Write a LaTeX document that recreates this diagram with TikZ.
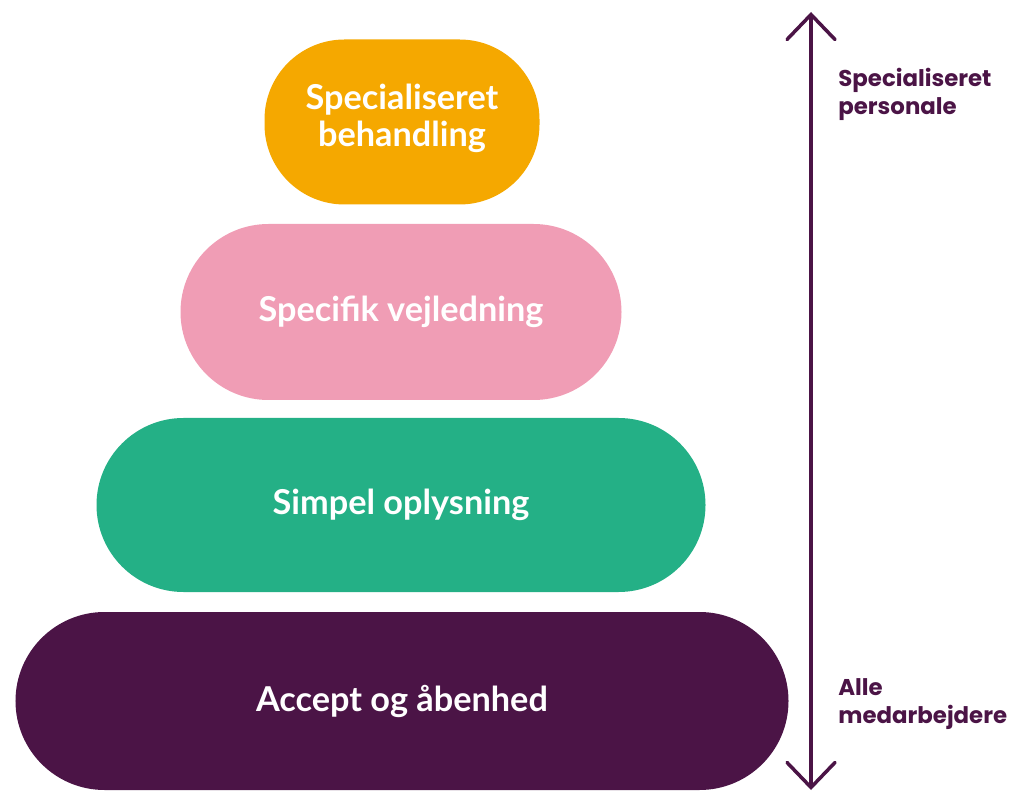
\documentclass[tikz,border=0pt]{standalone}
\usepackage{fontspec}
\setmainfont{Lato}
\newfontfamily\sidefont{Poppins}
\usetikzlibrary{arrows.meta,shapes.misc}

\definecolor{stepOrange}{HTML}{F5A800}
\definecolor{stepPink}{HTML}{F09DB5}
\definecolor{stepGreen}{HTML}{24B086}
\definecolor{stepPurple}{HTML}{4B1446}

\begin{document}
\begin{tikzpicture}[
    layer/.style={rounded rectangle, inner sep=0pt, text=white, font=\fontsize{19.5}{21}\selectfont\bfseries, align=center},
    sidelabel/.style={anchor=west, align=left, text=stepPurple, inner sep=0pt, font=\sidefont\fontsize{13}{15.9}\selectfont\bfseries}
]
    \useasboundingbox (0,0) rectangle (20.3,-15.86);
    % the four steps, from top to bottom
    \node[layer, fill=stepOrange, rectangle, rounded corners=1.6cm, minimum width=5.5cm, minimum height=3.3cm] (behandling) at (8.04,-2.44) {};
    \node[layer] (behandlingtext) at (8.04,-2.36) {Specialiseret\\behandling};
    \node[layer, fill=stepPink, minimum width=8.82cm, minimum height=3.52cm] (vejledning) at (8.02,-6.24) {Specifik vejledning};
    \node[layer, fill=stepGreen, minimum width=12.18cm, minimum height=3.48cm] (oplysning) at (8.02,-10.10) {Simpel oplysning};
    \node[layer, fill=stepPurple, minimum width=15.46cm, minimum height=3.56cm] (aabenhed) at (8.04,-14.02) {Accept og åbenhed};
    % double arrow on the right
    \coordinate (top) at (16.22,-0.24);
    \coordinate (bottom) at (16.22,-15.8);
    \draw[stepPurple, line width=2pt, line cap=round, {Straight Barb[length=0.5cm, width=0.96cm, line cap=round]}-{Straight Barb[length=0.5cm, width=0.96cm, line cap=round]}] (top) -- (bottom);
    \node[sidelabel] (personale) at (16.76,-1.88) {Specialiseret\\personale};
    \node[sidelabel] (medarbejdere) at (16.76,-14.08) {Alle\\medarbejdere};
\end{tikzpicture}
\end{document}
